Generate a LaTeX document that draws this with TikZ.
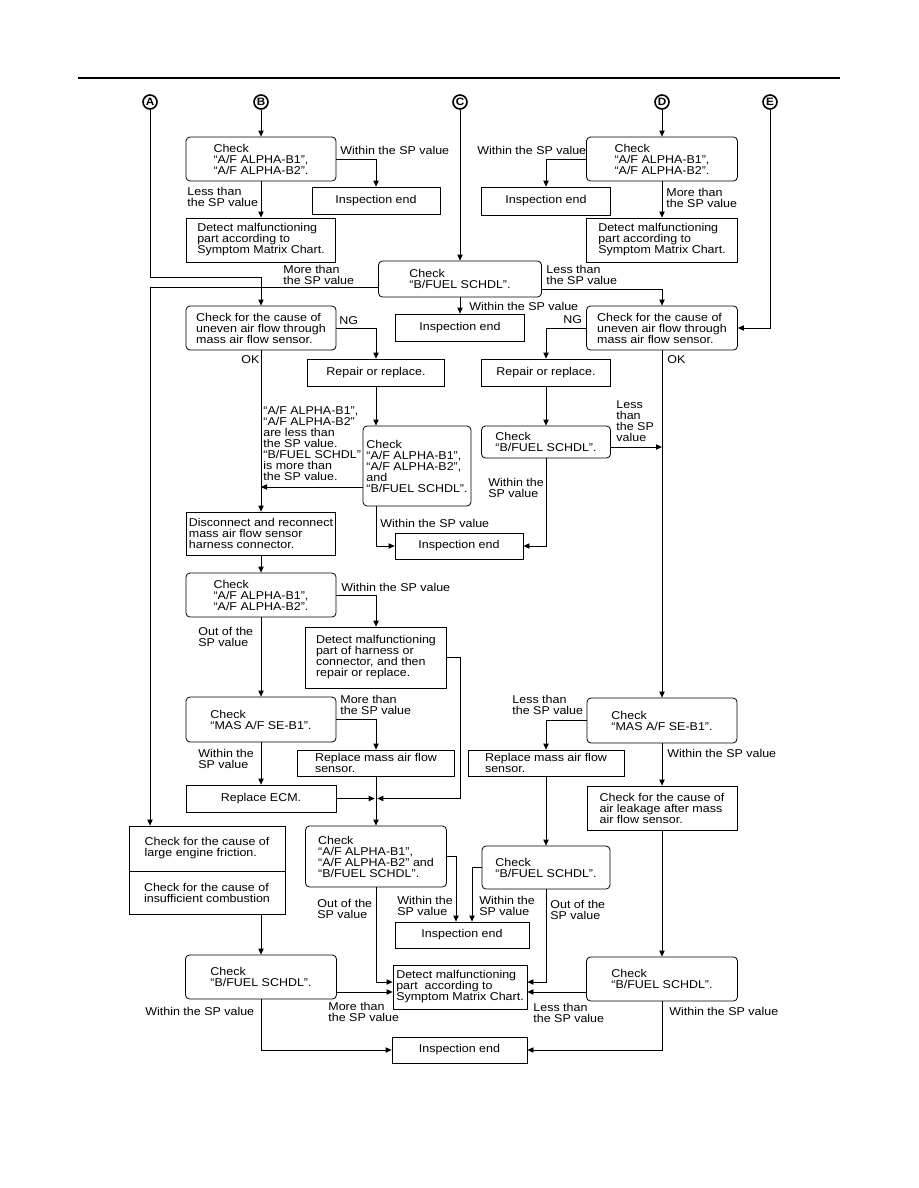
\documentclass[tikz,border=0pt]{standalone}
\usepackage{fontspec}
\setmainfont{Liberation Sans}[FakeStretch=1.1]
\usepackage{tikz}
\usetikzlibrary{positioning,calc,arrows.meta}

\begin{document}
\begin{tikzpicture}[x=0.75pt, y=-0.75pt, line width=0.6pt,
    every node/.style={font=\fontsize{8.5}{8.25}\selectfont},
    chk/.style={draw, rounded corners=3pt, align=left, inner sep=2pt},
    act/.style={draw, align=left, inner sep=2pt},
    lbl/.style={align=left, inner sep=0pt, anchor=west},
    ltr/.style={circle, draw, line width=1.2pt, inner sep=0pt, minimum size=10.5pt,
        font=\bfseries\fontsize{8}{8}\selectfont},
    arr/.style={-{Triangle[length=4.5pt,width=4pt]}},
    sz/.style 2 args={minimum width=#1*0.75pt, minimum height=#2*0.75pt}]
    \useasboundingbox (0,0) rectangle (918,1188);

    % 顶部横线
    \draw[line width=1.5pt] (78,78) -- (840,78);

    % 入口字母
    \node[ltr] (a) at (150,102) {A};
    \node[ltr] (b) at (261,102) {B};
    \node[ltr] (c) at (460,102) {C};
    \node[ltr] (d) at (662,102) {D};
    \node[ltr] (e) at (770,102) {E};

    % 上部检查框
    \node[chk, sz={150}{44}] (b1) at (261,159) {Check\\“A/F ALPHA-B1”,\\“A/F ALPHA-B2”.};
    \node[act, sz={128}{27}] (ie1) at (376,200.5) {Inspection end};
    \node[act, sz={149}{44}] (det1) at (261,240) {Detect malfunctioning\\part according to\\Symptom Matrix Chart.};
    \node[chk, sz={151}{44}] (d1) at (662,159) {Check\\“A/F ALPHA-B1”,\\“A/F ALPHA-B2”.};
    \node[act, sz={129}{28}] (ie2) at (546,201) {Inspection end};
    \node[act, sz={151}{44}] (det2) at (662,240) {Detect malfunctioning\\part according to\\Symptom Matrix Chart.};
    \node[chk, sz={163}{36}] (fc) at (460,279) {Check\\“B/FUEL SCHDL”.};
    \node[act, sz={129}{27}] (ie3) at (460,327.5) {Inspection end};

    % 空气流量检查
    \node[chk, sz={150}{44}] (u1) at (261,328) {Check for the cause of\\uneven air flow through\\mass air flow sensor.};
    \node[chk, sz={151}{44}] (u2) at (662,328) {Check for the cause of\\uneven air flow through\\mass air flow sensor.};
    \node[act, sz={137}{27}] (rp1) at (376,372.5) {Repair or replace.};
    \node[act, sz={129}{27}] (rp2) at (546,372.5) {Repair or replace.};
    \node[chk, sz={108}{80}] (big) at (417,466) {Check\\“A/F ALPHA-B1”,\\“A/F ALPHA-B2”,\\and\\“B/FUEL SCHDL”.};
    \node[chk, sz={129}{32}] (fc2) at (546,442) {Check\\“B/FUEL SCHDL”.};
    \node[act, sz={128}{26}] (ie4) at (459,546) {Inspection end};
    \node[act, sz={148}{43}] (disc) at (261,533.5) {Disconnect and reconnect\\mass air flow sensor\\harness connector.};

    % 中部
    \node[chk, sz={150}{44}] (ca) at (261,595) {Check\\“A/F ALPHA-B1”,\\“A/F ALPHA-B2”.};
    \node[act, sz={141}{61}] (dh) at (376,657.5) {Detect malfunctioning\\part of harness or\\connector, and then\\repair or replace.};
    \node[chk, sz={150}{45}] (mas1) at (261,719.5) {Check\\“MAS A/F SE-B1”.};
    \node[act, sz={157}{26}] (rm1) at (376,763) {Replace mass air flow\\sensor.};
    \node[act, sz={150}{27}] (ecm) at (261,798.5) {Replace ECM.};
    \node[chk, sz={150}{45}] (mas2) at (662,720.5) {Check\\“MAS A/F SE-B1”.};
    \node[act, sz={156}{26}] (rm2) at (546,763) {Replace mass air flow\\sensor.};
    \node[act, sz={150}{44}] (al) at (662,808) {Check for the cause of\\air leakage after mass\\air flow sensor.};

    % 下部
    \node[act, sz={156}{45}] (fric1) at (207,848.5) {Check for the cause of\\large engine friction.};
    \node[act, sz={156}{43}] (fric2) at (207,892.5) {Check for the cause of\\insufficient combustion};
    \node[chk, sz={141}{61}] (cb) at (376,856.5) {Check\\“A/F ALPHA-B1”,\\“A/F ALPHA-B2” and\\“B/FUEL SCHDL”.};
    \node[chk, sz={128}{43}] (fc3) at (546,867.5) {Check\\“B/FUEL SCHDL”.};
    \node[act, sz={134}{26}] (ie5) at (462,935) {Inspection end};
    \node[act, sz={134}{44}] (det3) at (460,987) {Detect malfunctioning\\part\ \ according to\\Symptom Matrix Chart.};
    \node[chk, sz={151}{44}] (fbl) at (261,977) {Check\\“B/FUEL SCHDL”.};
    \node[chk, sz={151}{44}] (fbr) at (662,979) {Check\\“B/FUEL SCHDL”.};
    \node[act, sz={135}{26}] (ie6) at (459.5,1050) {Inspection end};

    % 辅助点
    \coordinate (jn) at (rm1.south |- ecm.east);
    \coordinate (bigout) at ([yshift=-15.75pt]big.west);
    \coordinate (f2out) at ([yshift=-3.75pt]fc2.east);
    \coordinate (d3lu) at ([yshift=3.75pt]det3.west);
    \coordinate (d3ll) at ([yshift=-3.75pt]det3.west);
    \coordinate (d3ru) at ([yshift=3.75pt]det3.east);
    \coordinate (d3rl) at ([yshift=-3.75pt]det3.east);

    % 连线
    \draw[arr] (b.south) -- (b1.north);
    \draw[arr] (b1.east) -| (ie1.north);
    \draw[arr] (b1.south) -- (det1.north);
    \draw[arr] (d.south) -- (d1.north);
    \draw[arr] (d1.west) -| (ie2.north);
    \draw[arr] (d1.south) -- (det2.north);
    \draw[arr] (c.south) -- (fc.north);
    \draw[arr] ([yshift=-6pt]fc.west) -| (a |- fric1.north);
    \draw[arr] (a.south) |- ([yshift=21pt]u1.north) -- (u1.north);
    \draw[arr] ([yshift=-7.5pt]fc.east) -| (u2.north);
    \draw[arr] (fc.south) -- (ie3.north);
    \draw[arr] (e.south) |- (u2.east);
    \draw[arr] (u1.east) -| (rp1.north);
    \draw[arr] (u2.west) -| (rp2.north);
    \draw[arr] (u1.south) -- (disc.north);
    \draw[arr] (rp1.south) -- (rp1.south |- big.north);
    \draw[arr] (bigout) -- (bigout -| u1.south);
    \draw[arr] (rp2.south) -- (fc2.north);
    \draw[arr] (f2out) -- (f2out -| u2.south);
    \draw[arr] (fc2.south) |- (ie4.east);
    \draw[arr] (rp1.south |- big.south) |- (ie4.west);
    \draw[arr] (disc.south) -- (ca.north);
    \draw[arr] (ca.east) -| (dh.north);
    \draw[arr] (ca.south) -- (mas1.north);
    \draw[arr] (dh.east) -- ++(13,0) |- ([xshift=1pt]jn);
    \draw[arr] (mas1.east) -| (rm1.north);
    \draw[arr] (mas1.south) -- (ecm.north);
    \draw[arr] (ecm.east) -- ([xshift=-1pt]jn);
    \draw[arr] (rm1.south) -- (cb.north);
    \draw[arr] (u2.south) -- (mas2.north);
    \draw[arr] (mas2.west) -| (rm2.north);
    \draw[arr] (mas2.south) -- (al.north);
    \draw[arr] (rm2.south) -- (fc3.north);
    \draw[arr] (al.south) -- (fbr.north);
    \draw[arr] (fric2.south -| fbl.north) -- (fbl.north);
    \draw[arr] (cb.south) |- (d3lu);
    \draw[arr] (fbl.east |- d3ll) -- (d3ll);
    \draw[arr] (fc3.south) |- (d3ru);
    \draw[arr] (fbr.west |- d3rl) -- (d3rl);
    \draw[arr] (cb.east) -| ([xshift=-4.5pt]ie5.north);
    \draw[arr] (fc3.west) -| ([xshift=7.5pt]ie5.north);
    \draw[arr] (fbl.south) |- (ie6.west);
    \draw[arr] (fbr.south) |- (ie6.east);

    % 标注
    \node[lbl] (l1) at (340,150) {Within the SP value};
    \node[lbl] (l2) at (187,196.5) {Less than\\the SP value};
    \node[lbl] (l3) at (477,150) {Within the SP value};
    \node[lbl] (l4) at (666,198) {More than\\the SP value};
    \node[lbl] (l5) at (283,275) {More than\\the SP value};
    \node[lbl] (l6) at (546,275) {Less than\\the SP value};
    \node[lbl] (l7) at (469,306) {Within the SP value};
    \node[lbl] (l8) at (339,321) {NG};
    \node[lbl] (l9) at (563,320) {NG};
    \node[lbl] (l10) at (241,360) {OK};
    \node[lbl] (l11) at (667,360) {OK};
    \node[lbl] (l12) at (263,443.5) {“A/F ALPHA-B1”,\\“A/F ALPHA-B2”\\are less than\\the SP value.\\“B/FUEL SCHDL”\\is more than\\the SP value.};
    \node[lbl] (l13) at (616,421.5) {Less\\than\\the SP\\value};
    \node[lbl] (l14) at (380,523) {Within the SP value};
    \node[lbl] (l15) at (488,487.5) {Within the\\SP value};
    \node[lbl] (l16) at (341,587) {Within the SP value};
    \node[lbl] (l17) at (198,636.5) {Out of the\\SP value};
    \node[lbl] (l18) at (340,705) {More than\\the SP value};
    \node[lbl] (l19) at (198,758.5) {Within the\\SP value};
    \node[lbl] (l20) at (512,705) {Less than\\the SP value};
    \node[lbl] (l21) at (667,753) {Within the SP value};
    \node[lbl] (l22) at (317,909) {Out of the\\SP value};
    \node[lbl] (l23) at (397,905.5) {Within the\\SP value};
    \node[lbl] (l24) at (479,905.5) {Within the\\SP value};
    \node[lbl] (l25) at (550,909.5) {Out of the\\SP value};
    \node[lbl] (l26) at (145,1011) {Within the SP value};
    \node[lbl] (l27) at (328,1012) {More than\\the SP value};
    \node[lbl] (l28) at (533,1012.5) {Less than\\the SP value};
    \node[lbl] (l29) at (669,1011) {Within the SP value};

\end{tikzpicture}
\end{document}
